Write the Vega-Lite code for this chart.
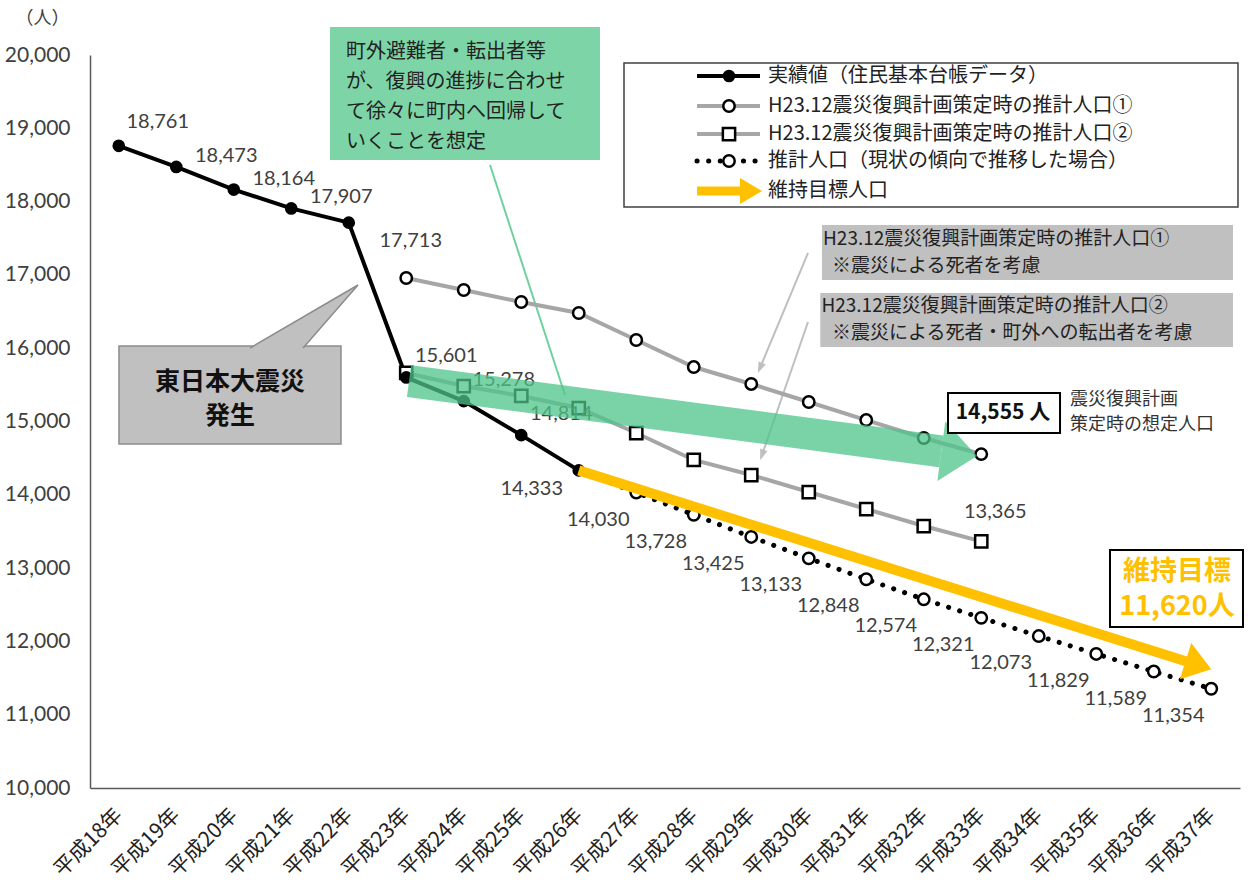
{
  "$schema": "https://vega.github.io/schema/vega-lite/v6.json",
  "width": 1150,
  "height": 733,
  "autosize": {"type": "none"},
  "padding": {"left": 90, "top": 55, "right": 8, "bottom": 96},
  "background": "white",
  "config": {
    "view": {"stroke": null},
    "text": {"font": "Noto Sans CJK JP"},
    "axis": {"grid": false, "ticks": false, "domainColor": "#595959", "domainWidth": 1.5},
    "axisX": {"labelExpr": "'平成' + datum.value + '年'", "labelAngle": -45, "labelAlign": "right", "labelBaseline": "middle",
      "labelFont": "Noto Sans CJK JP", "labelFontSize": 21, "labelColor": "#222222", "labelPadding": 24,
      "labelOverlap": false, "labelBound": false, "labelFlush": false},
    "axisY": {"labelExpr": "format(datum.value, ',')", "labelFont": "Lato", "labelFontSize": 21, "labelColor": "#404040", "labelPadding": 20,
      "titleAngle": 0, "titleX": -48, "titleY": -37, "titleAlign": "center", "titleBaseline": "middle",
      "titleFont": "Noto Sans CJK JP", "titleFontSize": 18, "titleFontWeight": "normal", "titleColor": "#404040"}
  },
  "datasets": {
    "population": [
      {"year": 18, "population": 18761, "series": "実績値"},
      {"year": 19, "population": 18473, "series": "実績値"},
      {"year": 20, "population": 18164, "series": "実績値"},
      {"year": 21, "population": 17907, "series": "実績値"},
      {"year": 22, "population": 17713, "series": "実績値"},
      {"year": 23, "population": 15601, "series": "実績値"},
      {"year": 24, "population": 15278, "series": "実績値"},
      {"year": 25, "population": 14814, "series": "実績値"},
      {"year": 26, "population": 14333, "series": "実績値"},
      {"year": 23, "population": 16958, "series": "推計①"},
      {"year": 24, "population": 16794, "series": "推計①"},
      {"year": 25, "population": 16630, "series": "推計①"},
      {"year": 26, "population": 16480, "series": "推計①"},
      {"year": 27, "population": 16112, "series": "推計①"},
      {"year": 28, "population": 15743, "series": "推計①"},
      {"year": 29, "population": 15512, "series": "推計①"},
      {"year": 30, "population": 15266, "series": "推計①"},
      {"year": 31, "population": 15020, "series": "推計①"},
      {"year": 32, "population": 14775, "series": "推計①"},
      {"year": 33, "population": 14555, "series": "推計①"},
      {"year": 23, "population": 15662, "series": "推計②"},
      {"year": 24, "population": 15484, "series": "推計②"},
      {"year": 25, "population": 15348, "series": "推計②"},
      {"year": 26, "population": 15184, "series": "推計②"},
      {"year": 27, "population": 14843, "series": "推計②"},
      {"year": 28, "population": 14475, "series": "推計②"},
      {"year": 29, "population": 14270, "series": "推計②"},
      {"year": 30, "population": 14038, "series": "推計②"},
      {"year": 31, "population": 13806, "series": "推計②"},
      {"year": 32, "population": 13574, "series": "推計②"},
      {"year": 33, "population": 13365, "series": "推計②"},
      {"year": 26, "population": 14333, "series": "推計（現状）"},
      {"year": 27, "population": 14030, "series": "推計（現状）"},
      {"year": 28, "population": 13728, "series": "推計（現状）"},
      {"year": 29, "population": 13425, "series": "推計（現状）"},
      {"year": 30, "population": 13133, "series": "推計（現状）"},
      {"year": 31, "population": 12848, "series": "推計（現状）"},
      {"year": 32, "population": 12574, "series": "推計（現状）"},
      {"year": 33, "population": 12321, "series": "推計（現状）"},
      {"year": 34, "population": 12073, "series": "推計（現状）"},
      {"year": 35, "population": 11829, "series": "推計（現状）"},
      {"year": 36, "population": 11589, "series": "推計（現状）"},
      {"year": 37, "population": 11354, "series": "推計（現状）"}
    ]
  },
  "layer": [
    {
      "data": {"values": [{"x": 21.674, "x2": 26.37, "y": 20382, "y2": 18568}]},
      "mark": {"type": "rect", "fill": "#7dd5a7"},
      "encoding": {
        "x": {"field": "x", "type": "quantitative",
          "scale": {"domain": [17.5, 37.5], "nice": false, "zero": false},
          "axis": {"values": [18,19,20,21,22,23,24,25,26,27,28,29,30,31,32,33,34,35,36,37], "title": null}},
        "x2": {"field": "x2"},
        "y": {"field": "y", "type": "quantitative",
          "scale": {"domain": [10000, 20000], "nice": false, "zero": false},
          "axis": {"values": [10000,11000,12000,13000,14000,15000,16000,17000,18000,19000,20000], "title": "（人）"}},
        "y2": {"field": "y2"}
      }
    },
    {
      "data": {"values": [{"x": 24.457, "y": 18499}, {"x": 25.761, "y": 15362}]},
      "mark": {"type": "line", "color": "#6fd1a0", "strokeWidth": 2},
      "encoding": {"x": {"field": "x", "type": "quantitative"}, "y": {"field": "y", "type": "quantitative"}}
    },
    {
      "data": {"values": [
        {"x": 21.952, "y": 20041, "text": "町外避難者・転出者等"},
        {"x": 21.952, "y": 19632, "text": "が、復興の進捗に合わせ"},
        {"x": 21.952, "y": 19222, "text": "て徐々に町内へ回帰して"},
        {"x": 21.952, "y": 18813, "text": "いくことを想定"}]},
      "mark": {"type": "text", "align": "left", "baseline": "middle", "fontSize": 20, "color": "#222222"},
      "encoding": {"x": {"field": "x", "type": "quantitative"}, "y": {"field": "y", "type": "quantitative"}, "text": {"field": "text"}}
    },
    {
      "data": {"values": [{"x": 18.004, "x2": 21.865, "y": 16030, "y2": 14693}]},
      "mark": {"type": "rect", "fill": "#c0c0c0", "stroke": "#8c8c8c", "strokeWidth": 1.5},
      "encoding": {"x": {"field": "x", "type": "quantitative"}, "x2": {"field": "x2"}, "y": {"field": "y", "type": "quantitative"}, "y2": {"field": "y2"}}
    },
    {
      "data": {"values": [{"x": 21.222, "y": 16439}]},
      "mark": {"type": "point", "shape": "M-0.982,0.582L0.982,-0.564L-0.018,0.582", "size": 12100, "filled": true, "fill": "#c0c0c0", "stroke": "#8c8c8c", "strokeWidth": 1.5, "opacity": 1},
      "encoding": {"x": {"field": "x", "type": "quantitative"}, "y": {"field": "y", "type": "quantitative"}}
    },
    {
      "data": {"values": [{"x": 19.935, "y": 15535, "text": "東日本大震災"}, {"x": 19.935, "y": 15080, "text": "発生"}]},
      "mark": {"type": "text", "align": "center", "baseline": "middle", "fontSize": 25, "fontWeight": "bold", "color": "#111111"},
      "encoding": {"x": {"field": "x", "type": "quantitative"}, "y": {"field": "y", "type": "quantitative"}, "text": {"field": "text"}}
    },
    {
      "data": {"values": [{"x": 30.23, "x2": 37.378, "y": 17681, "y2": 16930}, {"x": 30.2, "x2": 37.378, "y": 16753, "y2": 16016}]},
      "mark": {"type": "rect", "fill": "#c0c0c0"},
      "encoding": {"x": {"field": "x", "type": "quantitative"}, "x2": {"field": "x2"}, "y": {"field": "y", "type": "quantitative"}, "y2": {"field": "y2"}}
    },
    {
      "data": {"values": [
        {"x": 30.248, "y": 17490, "text": "H23.12震災復興計画策定時の推計人口①"},
        {"x": 30.404, "y": 17121, "text": "※震災による死者を考慮"},
        {"x": 30.22, "y": 16576, "text": "H23.12震災復興計画策定時の推計人口②"},
        {"x": 30.404, "y": 16207, "text": "※震災による死者・町外への転出者を考慮"}]},
      "mark": {"type": "text", "align": "left", "baseline": "middle", "fontSize": 19, "color": "#222222"},
      "encoding": {"x": {"field": "x", "type": "quantitative"}, "y": {"field": "y", "type": "quantitative"}, "text": {"field": "text"}}
    },
    {
      "data": {"values": [
        {"x": 29.987, "y": 17299, "id": "a"}, {"x": 29.152, "y": 15730, "id": "a"},
        {"x": 29.987, "y": 16357, "id": "b"}, {"x": 29.187, "y": 14543, "id": "b"}]},
      "mark": {"type": "line", "color": "#bfbfbf", "strokeWidth": 2},
      "encoding": {"x": {"field": "x", "type": "quantitative"}, "y": {"field": "y", "type": "quantitative"}, "detail": {"field": "id"}}
    },
    {
      "data": {"values": [{"x": 29.152, "y": 15730, "angle": 112.7}, {"x": 29.187, "y": 14543, "angle": 109.1}]},
      "mark": {"type": "point", "shape": "M-1,-0.7L1,0L-1,0.7Z", "size": 121, "filled": true, "color": "#bfbfbf", "opacity": 1},
      "encoding": {"x": {"field": "x", "type": "quantitative"}, "y": {"field": "y", "type": "quantitative"},
        "angle": {"field": "angle", "type": "quantitative", "scale": null}}
    },
    {
      "data": {"name": "population"},
      "transform": [{"filter": "datum.series === '推計①'"}],
      "mark": {"type": "line", "color": "#a6a6a6", "strokeWidth": 4},
      "encoding": {"x": {"field": "year", "type": "quantitative"}, "y": {"field": "population", "type": "quantitative"}}
    },
    {
      "data": {"name": "population"},
      "transform": [{"filter": "datum.series === '推計②'"}],
      "mark": {"type": "line", "color": "#a6a6a6", "strokeWidth": 4},
      "encoding": {"x": {"field": "year", "type": "quantitative"}, "y": {"field": "population", "type": "quantitative"}}
    },
    {
      "data": {"name": "population"},
      "transform": [{"filter": "datum.series === '推計（現状）'"}],
      "mark": {"type": "line", "color": "#000000", "strokeWidth": 5, "strokeDash": [0.1, 11.5], "strokeCap": "round"},
      "encoding": {"x": {"field": "year", "type": "quantitative"}, "y": {"field": "population", "type": "quantitative"}}
    },
    {
      "data": {"name": "population"},
      "transform": [{"filter": "datum.series === '実績値'"}],
      "mark": {"type": "line", "color": "#000000", "strokeWidth": 4},
      "encoding": {"x": {"field": "year", "type": "quantitative"}, "y": {"field": "population", "type": "quantitative"}}
    },
    {
      "data": {"name": "population"},
      "transform": [{"filter": "datum.series === '推計①' || (datum.series === '推計（現状）' && datum.year > 26)"}],
      "mark": {"type": "point", "shape": "circle", "size": 130, "filled": true, "fill": "#ffffff", "stroke": "#000000", "strokeWidth": 2.5, "opacity": 1},
      "encoding": {"x": {"field": "year", "type": "quantitative"}, "y": {"field": "population", "type": "quantitative"}}
    },
    {
      "data": {"name": "population"},
      "transform": [{"filter": "datum.series === '推計②'"}],
      "mark": {"type": "point", "shape": "square", "size": 150, "filled": true, "fill": "#ffffff", "stroke": "#000000", "strokeWidth": 2.5, "opacity": 1},
      "encoding": {"x": {"field": "year", "type": "quantitative"}, "y": {"field": "population", "type": "quantitative"}}
    },
    {
      "data": {"name": "population"},
      "transform": [{"filter": "datum.series === '実績値'"}],
      "mark": {"type": "point", "shape": "circle", "size": 160, "filled": true, "color": "#000000", "opacity": 1},
      "encoding": {"x": {"field": "year", "type": "quantitative"}, "y": {"field": "population", "type": "quantitative"}}
    },
    {
      "data": {"name": "population"},
      "transform": [{"filter": "datum.series === '実績値' && datum.year === 18"}],
      "mark": {"type": "text", "font": "Lato", "fontSize": 20, "color": "#404040", "align": "center", "baseline": "middle", "dx": 39, "dy": -24},
      "encoding": {"x": {"field": "year", "type": "quantitative"}, "y": {"field": "population", "type": "quantitative"}, "text": {"field": "population", "format": ","}}
    },
    {
      "data": {"name": "population"},
      "transform": [{"filter": "datum.series === '実績値' && datum.year >= 19 && datum.year <= 21"}],
      "mark": {"type": "text", "font": "Lato", "fontSize": 20, "color": "#404040", "align": "center", "baseline": "middle", "dx": 50, "dy": -11},
      "encoding": {"x": {"field": "year", "type": "quantitative"}, "y": {"field": "population", "type": "quantitative"}, "text": {"field": "population", "format": ","}}
    },
    {
      "data": {"name": "population"},
      "transform": [{"filter": "datum.series === '実績値' && datum.year === 22"}],
      "mark": {"type": "text", "font": "Lato", "fontSize": 20, "color": "#404040", "align": "center", "baseline": "middle", "dx": 62, "dy": 18},
      "encoding": {"x": {"field": "year", "type": "quantitative"}, "y": {"field": "population", "type": "quantitative"}, "text": {"field": "population", "format": ","}}
    },
    {
      "data": {"name": "population"},
      "transform": [{"filter": "datum.series === '実績値' && datum.year >= 23 && datum.year <= 25"}],
      "mark": {"type": "text", "font": "Lato", "fontSize": 20, "color": "#404040", "align": "center", "baseline": "middle", "dx": 40, "dy": -21},
      "encoding": {"x": {"field": "year", "type": "quantitative"}, "y": {"field": "population", "type": "quantitative"}, "text": {"field": "population", "format": ","}}
    },
    {
      "data": {"name": "population"},
      "transform": [{"filter": "datum.series === '実績値' && datum.year === 26"}],
      "mark": {"type": "text", "font": "Lato", "fontSize": 20, "color": "#404040", "align": "center", "baseline": "middle", "dx": -47, "dy": 19},
      "encoding": {"x": {"field": "year", "type": "quantitative"}, "y": {"field": "population", "type": "quantitative"}, "text": {"field": "population", "format": ","}}
    },
    {
      "data": {"name": "population"},
      "transform": [{"filter": "datum.series === '推計（現状）' && datum.year > 26"}],
      "mark": {"type": "text", "font": "Lato", "fontSize": 20, "color": "#404040", "align": "center", "baseline": "middle", "dx": -38, "dy": 27},
      "encoding": {"x": {"field": "year", "type": "quantitative"}, "y": {"field": "population", "type": "quantitative"}, "text": {"field": "population", "format": ","}}
    },
    {
      "data": {"name": "population"},
      "transform": [{"filter": "datum.series === '推計②' && datum.year === 33"}],
      "mark": {"type": "text", "font": "Lato", "fontSize": 20, "color": "#404040", "align": "center", "baseline": "middle", "dx": 14, "dy": -29},
      "encoding": {"x": {"field": "year", "type": "quantitative"}, "y": {"field": "population", "type": "quantitative"}, "text": {"field": "population", "format": ","}}
    },
    {
      "data": {"values": [{"x": 26, "y": 14333}, {"x": 36.777, "y": 11675}]},
      "mark": {"type": "line", "color": "#ffc000", "strokeWidth": 10, "strokeCap": "butt"},
      "encoding": {"x": {"field": "x", "type": "quantitative"}, "y": {"field": "y", "type": "quantitative"}}
    },
    {
      "data": {"values": [{"x": 36.777, "y": 11675, "angle": 17.46}]},
      "mark": {"type": "point", "shape": "M-0.71,-1L0.71,0L-0.71,1Z", "size": 1444, "filled": true, "color": "#ffc000", "opacity": 1},
      "encoding": {"x": {"field": "x", "type": "quantitative"}, "y": {"field": "y", "type": "quantitative"},
        "angle": {"field": "angle", "type": "quantitative", "scale": null}}
    },
    {
      "data": {"values": [{"x": 23.048, "y": 15552}, {"x": 32.305, "y": 14593}]},
      "mark": {"type": "line", "color": "#4cc48a", "strokeWidth": 32, "strokeCap": "butt", "opacity": 0.75},
      "encoding": {"x": {"field": "x", "type": "quantitative"}, "y": {"field": "y", "type": "quantitative"}}
    },
    {
      "data": {"values": [{"x": 32.616, "y": 14561, "angle": 7.5}]},
      "mark": {"type": "point", "shape": "M-0.6,-1L0.6,0L-0.6,1Z", "size": 3600, "filled": true, "color": "#4cc48a", "opacity": 0.75, "strokeWidth": 0},
      "encoding": {"x": {"field": "x", "type": "quantitative"}, "y": {"field": "y", "type": "quantitative"},
        "angle": {"field": "angle", "type": "quantitative", "scale": null}}
    },
    {
      "data": {"values": [{"x": 32.422, "x2": 34.37, "y": 15389, "y2": 14843}, {"x": 35.239, "x2": 37.552, "y": 13247, "y2": 12196}]},
      "mark": {"type": "rect", "fill": "#ffffff", "stroke": "#000000", "strokeWidth": 2},
      "encoding": {"x": {"field": "x", "type": "quantitative"}, "x2": {"field": "x2"}, "y": {"field": "y", "type": "quantitative"}, "y2": {"field": "y2"}}
    },
    {
      "data": {"values": [{"x": 33.378, "y": 15116, "text": "14,555 人"}]},
      "mark": {"type": "text", "align": "center", "baseline": "middle", "fontSize": 21, "fontWeight": "bold", "color": "#111111"},
      "encoding": {"x": {"field": "x", "type": "quantitative"}, "y": {"field": "y", "type": "quantitative"}, "text": {"field": "text"}}
    },
    {
      "data": {"values": [{"x": 34.543, "y": 15293, "text": "震災復興計画"}, {"x": 34.543, "y": 14952, "text": "策定時の想定人口"}]},
      "mark": {"type": "text", "align": "left", "baseline": "middle", "fontSize": 18, "color": "#333333"},
      "encoding": {"x": {"field": "x", "type": "quantitative"}, "y": {"field": "y", "type": "quantitative"}, "text": {"field": "text"}}
    },
    {
      "data": {"values": [{"x": 36.404, "y": 12950, "text": "維持目標"}, {"x": 36.404, "y": 12470, "text": "11,620人"}]},
      "mark": {"type": "text", "align": "center", "baseline": "middle", "fontSize": 27, "fontWeight": "bold", "color": "#ffc000"},
      "encoding": {"x": {"field": "x", "type": "quantitative"}, "y": {"field": "y", "type": "quantitative"}, "text": {"field": "text"}}
    },
    {
      "data": {"values": [{"x": 26.787, "x2": 37.465, "y": 19891, "y2": 17926}]},
      "mark": {"type": "rect", "fill": "#ffffff", "stroke": "#404040", "strokeWidth": 1.5},
      "encoding": {"x": {"field": "x", "type": "quantitative"}, "x2": {"field": "x2"}, "y": {"field": "y", "type": "quantitative"}, "y2": {"field": "y2"}}
    },
    {
      "data": {"values": [{"x": 28.057, "y": 19714}, {"x": 29.152, "y": 19714}]},
      "mark": {"type": "line", "color": "#000000", "strokeWidth": 4},
      "encoding": {"x": {"field": "x", "type": "quantitative"}, "y": {"field": "y", "type": "quantitative"}}
    },
    {
      "data": {"values": [{"x": 28.057, "y": 19304, "id": "a"}, {"x": 29.152, "y": 19304, "id": "a"}, {"x": 28.057, "y": 18922, "id": "b"}, {"x": 29.152, "y": 18922, "id": "b"}]},
      "mark": {"type": "line", "color": "#a6a6a6", "strokeWidth": 4},
      "encoding": {"x": {"field": "x", "type": "quantitative"}, "y": {"field": "y", "type": "quantitative"}, "detail": {"field": "id"}}
    },
    {
      "data": {"values": [{"x": 28.057, "y": 18554}, {"x": 29.152, "y": 18554}]},
      "mark": {"type": "line", "color": "#000000", "strokeWidth": 5, "strokeDash": [0.1, 11.5], "strokeCap": "round"},
      "encoding": {"x": {"field": "x", "type": "quantitative"}, "y": {"field": "y", "type": "quantitative"}}
    },
    {
      "data": {"values": [{"x": 28.613, "y": 19714}]},
      "mark": {"type": "point", "shape": "circle", "size": 160, "filled": true, "color": "#000000", "opacity": 1},
      "encoding": {"x": {"field": "x", "type": "quantitative"}, "y": {"field": "y", "type": "quantitative"}}
    },
    {
      "data": {"values": [{"x": 28.613, "y": 19304}, {"x": 28.613, "y": 18554}]},
      "mark": {"type": "point", "shape": "circle", "size": 130, "filled": true, "fill": "#ffffff", "stroke": "#000000", "strokeWidth": 2.5, "opacity": 1},
      "encoding": {"x": {"field": "x", "type": "quantitative"}, "y": {"field": "y", "type": "quantitative"}}
    },
    {
      "data": {"values": [{"x": 28.613, "y": 18922}]},
      "mark": {"type": "point", "shape": "square", "size": 150, "filled": true, "fill": "#ffffff", "stroke": "#000000", "strokeWidth": 2.5, "opacity": 1},
      "encoding": {"x": {"field": "x", "type": "quantitative"}, "y": {"field": "y", "type": "quantitative"}}
    },
    {
      "data": {"values": [{"x": 28.057, "y": 18145}, {"x": 28.9, "y": 18145}]},
      "mark": {"type": "line", "color": "#ffc000", "strokeWidth": 9, "strokeCap": "butt"},
      "encoding": {"x": {"field": "x", "type": "quantitative"}, "y": {"field": "y", "type": "quantitative"}}
    },
    {
      "data": {"values": [{"x": 28.996, "y": 18145}]},
      "mark": {"type": "point", "shape": "M-0.85,-1L0.85,0L-0.85,1Z", "size": 676, "filled": true, "color": "#ffc000", "opacity": 1},
      "encoding": {"x": {"field": "x", "type": "quantitative"}, "y": {"field": "y", "type": "quantitative"}}
    },
    {
      "data": {"values": [
        {"x": 29.291, "y": 19714, "text": "実績値（住民基本台帳データ）"},
        {"x": 29.291, "y": 19304, "text": "H23.12震災復興計画策定時の推計人口①"},
        {"x": 29.291, "y": 18922, "text": "H23.12震災復興計画策定時の推計人口②"},
        {"x": 29.291, "y": 18554, "text": "推計人口（現状の傾向で推移した場合）"},
        {"x": 29.291, "y": 18145, "text": "維持目標人口"}]},
      "mark": {"type": "text", "align": "left", "baseline": "middle", "fontSize": 20, "color": "#222222"},
      "encoding": {"x": {"field": "x", "type": "quantitative"}, "y": {"field": "y", "type": "quantitative"}, "text": {"field": "text"}}
    }
  ]
}
